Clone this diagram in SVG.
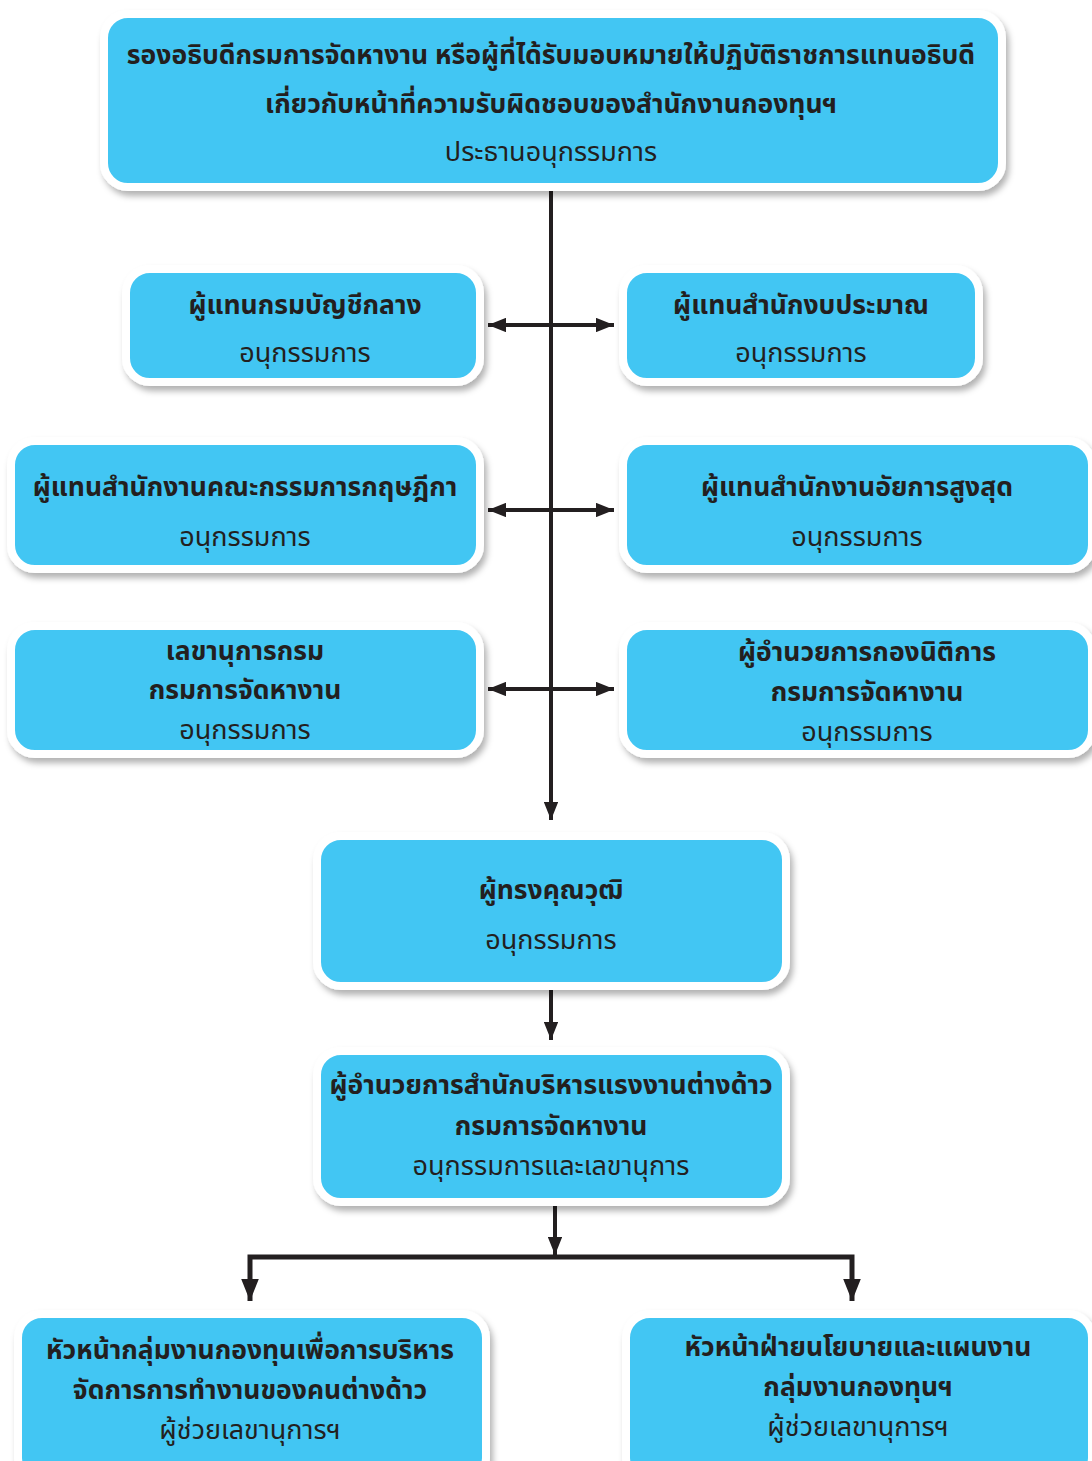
<svg xmlns="http://www.w3.org/2000/svg" width="1092" height="1461" viewBox="0 0 1092 1461">
<style>
.box{fill:#42C6F3;stroke:#ffffff;stroke-width:8;filter:url(#sh)}
.t{font-family:"Noto Sans Thai","Noto Sans","Liberation Sans",sans-serif;font-size:26.5px;font-weight:bold;fill:#231F20;text-anchor:middle}
.s{font-family:"Noto Sans Thai","Noto Sans","Liberation Sans",sans-serif;font-size:27px;font-weight:normal;fill:#231F20;text-anchor:middle}
.ln{stroke:#231F20;stroke-width:4;fill:none}
.lb{stroke:#231F20;stroke-width:5;fill:none}
</style>
<defs>
<filter id="sh" x="-10%" y="-10%" width="120%" height="130%">
<feDropShadow dx="3" dy="5" stdDeviation="3" flood-color="#000" flood-opacity="0.3"/>
</filter>
<marker id="ah" viewBox="0 0 10 8" refX="10" refY="4" markerWidth="4.5" markerHeight="3.6" markerUnits="strokeWidth" orient="auto-start-reverse">
<path d="M0,0 L10,4 L0,8 z" fill="#231F20"/>
</marker>
</defs>
<rect width="1092" height="1461" fill="#ffffff"/>
<g id="connectors">
<line class="ln" x1="551" y1="186" x2="551" y2="820" marker-end="url(#ah)"/>
<line class="ln" x1="488" y1="325" x2="614" y2="325" marker-start="url(#ah)" marker-end="url(#ah)"/>
<line class="ln" x1="488" y1="510" x2="614" y2="510" marker-start="url(#ah)" marker-end="url(#ah)"/>
<line class="ln" x1="488" y1="689" x2="614" y2="689" marker-start="url(#ah)" marker-end="url(#ah)"/>
<line class="ln" x1="551" y1="988" x2="551" y2="1040" marker-end="url(#ah)"/>
<line class="ln" x1="555" y1="1204" x2="555" y2="1255" marker-end="url(#ah)"/>
<polyline class="lb" points="250,1301 250,1257 852,1257 852,1301" marker-start="url(#ah)" marker-end="url(#ah)"/>
</g>
<g id="n1"><rect class="box" x="104" y="14" width="898" height="173" rx="24"/>
<text class="t" x="551" y="64">รองอธิบดีกรมการจัดหางาน หรือผู้ที่ได้รับมอบหมายให้ปฏิบัติราชการแทนอธิบดี</text>
<text class="t" x="551" y="113">เกี่ยวกับหน้าที่ความรับผิดชอบของสำนักงานกองทุนฯ</text>
<text class="s" x="551" y="161">ประธานอนุกรรมการ</text></g>
<g id="n2"><rect class="box" x="126" y="269" width="354" height="113" rx="24"/>
<text class="t" x="305" y="314">ผู้แทนกรมบัญชีกลาง</text>
<text class="s" x="305" y="362">อนุกรรมการ</text></g>
<g id="n3"><rect class="box" x="623" y="269" width="356" height="113" rx="24"/>
<text class="t" x="801" y="314">ผู้แทนสำนักงบประมาณ</text>
<text class="s" x="801" y="362">อนุกรรมการ</text></g>
<g id="n4"><rect class="box" x="11" y="441" width="469" height="128" rx="24"/>
<text class="t" x="245" y="496">ผู้แทนสำนักงานคณะกรรมการกฤษฎีกา</text>
<text class="s" x="245" y="546">อนุกรรมการ</text></g>
<g id="n5"><rect class="box" x="623" y="441" width="469" height="128" rx="24"/>
<text class="t" x="857" y="496">ผู้แทนสำนักงานอัยการสูงสุด</text>
<text class="s" x="857" y="546">อนุกรรมการ</text></g>
<g id="n6"><rect class="box" x="11" y="626" width="469" height="128" rx="24"/>
<text class="t" x="245" y="660">เลขานุการกรม</text>
<text class="t" x="245" y="699">กรมการจัดหางาน</text>
<text class="s" x="245" y="739">อนุกรรมการ</text></g>
<g id="n7"><rect class="box" x="623" y="626" width="469" height="128" rx="24"/>
<text class="t" x="867" y="661">ผู้อำนวยการกองนิติการ</text>
<text class="t" x="867" y="701">กรมการจัดหางาน</text>
<text class="s" x="867" y="741">อนุกรรมการ</text></g>
<g id="n8"><rect class="box" x="317" y="836" width="469" height="150" rx="24"/>
<text class="t" x="551" y="899">ผู้ทรงคุณวุฒิ</text>
<text class="s" x="551" y="949">อนุกรรมการ</text></g>
<g id="n9"><rect class="box" x="317" y="1051" width="469" height="151" rx="24"/>
<text class="t" x="551" y="1094">ผู้อำนวยการสำนักบริหารแรงงานต่างด้าว</text>
<text class="t" x="551" y="1135">กรมการจัดหางาน</text>
<text class="s" x="551" y="1175">อนุกรรมการและเลขานุการ</text></g>
<g id="n10"><rect class="box" x="18" y="1314" width="468" height="168" rx="24"/>
<text class="t" x="250" y="1359">หัวหน้ากลุ่มงานกองทุนเพื่อการบริหาร</text>
<text class="t" x="250" y="1399">จัดการการทำงานของคนต่างด้าว</text>
<text class="s" x="250" y="1439">ผู้ช่วยเลขานุการฯ</text></g>
<g id="n11"><rect class="box" x="626" y="1314" width="466" height="168" rx="24"/>
<text class="t" x="858" y="1356">หัวหน้าฝ่ายนโยบายและแผนงาน</text>
<text class="t" x="858" y="1396">กลุ่มงานกองทุนฯ</text>
<text class="s" x="858" y="1436">ผู้ช่วยเลขานุการฯ</text></g>
</svg>
